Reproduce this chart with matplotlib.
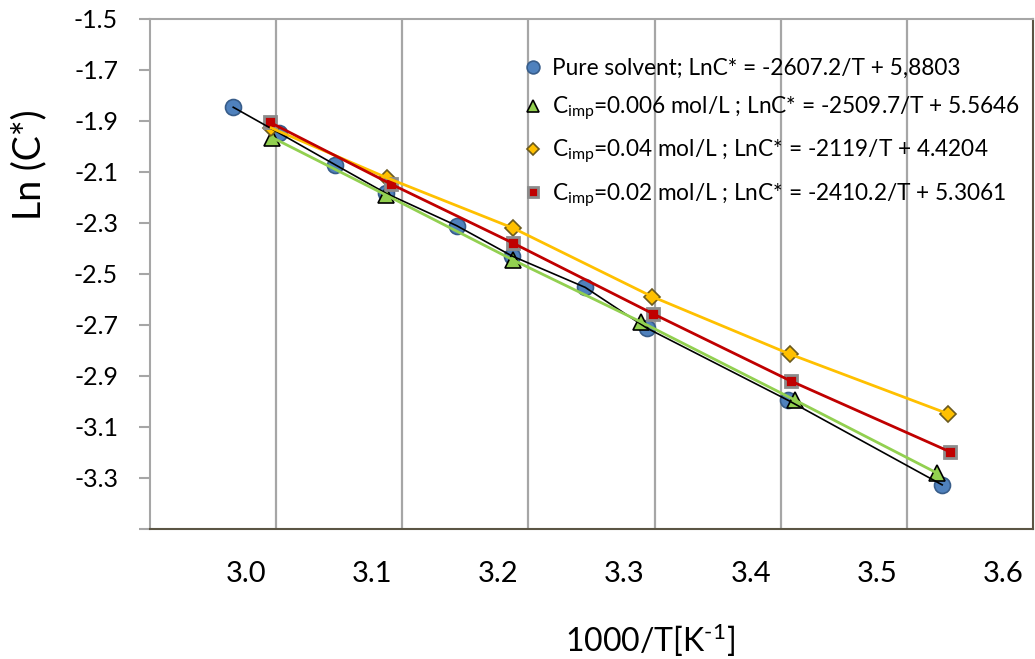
import numpy as np
import matplotlib.pyplot as plt
import matplotlib as mpl
from matplotlib.transforms import ScaledTranslation

mpl.rcParams['font.family'] = ['Lato', 'DejaVu Sans']
mpl.rcParams['mathtext.fontset'] = 'custom'
mpl.rcParams['mathtext.rm'] = 'Lato'
mpl.rcParams['mathtext.it'] = 'Lato:italic'

# values: x = 1000/T, y = Ln(C*)
x_pure = [2.966, 3.002, 3.047, 3.087, 3.143, 3.187, 3.245, 3.294, 3.406, 3.528]
y_pure = [-1.847, -1.947, -2.073, -2.184, -2.311, -2.430, -2.553, -2.713, -2.996, -3.327]

x_006 = [2.997, 3.087, 3.188, 3.289, 3.411, 3.524]
y_006 = [-1.966, -2.191, -2.446, -2.688, -2.994, -3.281]

x_004 = [2.996, 3.088, 3.188, 3.298, 3.407, 3.533]
y_004 = [-1.928, -2.124, -2.321, -2.589, -2.814, -3.049]

x_002 = [2.995, 3.091, 3.188, 3.299, 3.408, 3.534]
y_002 = [-1.906, -2.148, -2.380, -2.657, -2.920, -3.197]

labels = ['Pure solvent; LnC* = -2607.2/T + 5,8803',
          r'C$_{\mathrm{imp}}$=0.006 mol/L ; LnC* = -2509.7/T + 5.5646',
          r'C$_{\mathrm{imp}}$=0.04 mol/L ; LnC* = -2119/T + 4.4204',
          r'C$_{\mathrm{imp}}$=0.02 mol/L ; LnC* = -2410.2/T + 5.3061']

xticks = [3.0, 3.1, 3.2, 3.3, 3.4, 3.5, 3.6]
yticks = [-3.5, -3.3, -3.1, -2.9, -2.7, -2.5, -2.3, -2.1, -1.9, -1.7, -1.5]

#series styles: x, y, marker, face, edge, edge width, marker size, line colour, line width
series = [
    (x_pure, y_pure, 'o', '#4F81BD', '#385D8A', 1.2, 11.5, 'black', 1.2),
    (x_006, y_006, '^', '#92D050', 'black', 1.2, 11.5, '#92D050', 2.0),
    (x_004, y_004, 'D', '#FFC000', '#6B5A1E', 1.2, 8, '#FFC000', 2.0),
    (x_002, y_002, 's', '#C00000', '#8C8C8C', 2.0, 9, '#C00000', 2.0),
]

fig = plt.figure(figsize=(10.35, 6.59), dpi=100)
ax = fig.add_axes([150/1035, 1 - 529/659, 883/1035, 510.3/659])

handles = []
for i, (xs, ys, m, fc, ec, ew, ms, lc, lw) in enumerate(series):
    h, = ax.plot(xs, ys, linestyle='none', marker=m, markersize=ms,
                 markerfacecolor=fc, markeredgecolor=ec, markeredgewidth=ew,
                 zorder=3 + 0.1*i)
    handles.append(h)
for i, (xs, ys, m, fc, ec, ew, ms, lc, lw) in enumerate(series):
    ax.plot(xs, ys, color=lc, linewidth=lw, zorder=4 + 0.1*i)

ax.set_xlim(2.9, 3.6)
ax.set_ylim(-3.5, -1.5)

#vertical grid only
for xv in xticks[:-1]:
    ax.axvline(xv, color='#A6A6A6', linewidth=1.6, zorder=1)

ax.set_xticks(xticks)
ax.set_xticklabels(['%.1f' % v for v in xticks])
ax.set_yticks(yticks)
ax.set_yticklabels(['' if v == -3.5 else '%.1f' % v for v in yticks])

ax.tick_params(axis='x', length=0, labelsize=21, pad=23)
ax.tick_params(axis='y', length=8, width=1.5, color='#A6A6A6', labelsize=18, pad=15)

#excel put the x labels left of the grid lines
shift = ScaledTranslation(-30/100, 0, fig.dpi_scale_trans)
for lab in ax.get_xticklabels():
    lab.set_transform(lab.get_transform() + shift)

ax.spines['left'].set_color('#A6A6A6')
ax.spines['top'].set_color('#A6A6A6')
ax.spines['bottom'].set_color('#5B5544')
ax.spines['right'].set_color('#5B5544')
for s in ax.spines.values():
    s.set_linewidth(1.5)

fig.text(29/1035, 1 - 165/659, 'Ln (C*)', rotation=90, fontsize=27,
         ha='center', va='center')
fig.text(650/1035, 1 - 640/659, '1000/T[K$^{\\mathrm{\u2010}1}$]', fontsize=23,
         ha='center', va='center')

ax.legend(handles, labels, loc='upper left', bbox_to_anchor=(525/1035, 1 - 58/659),
          bbox_transform=fig.transFigure, frameon=False, fontsize=16.3,
          handlelength=0.7, handletextpad=0.5, labelspacing=0.68,
          borderpad=0, borderaxespad=0, markerscale=0.8)

plt.savefig('out.png', dpi=100)
